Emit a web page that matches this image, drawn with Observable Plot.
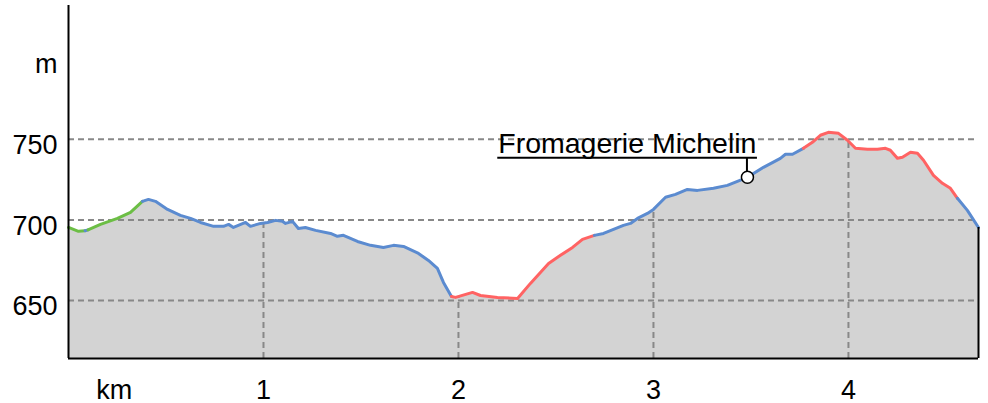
<!DOCTYPE html>
<html><head><meta charset="utf-8">
<script src="https://cdn.jsdelivr.net/npm/d3@7"></script>
<script src="https://cdn.jsdelivr.net/npm/@observablehq/plot@0.6"></script>
<style>body{margin:0;background:#fff}</style>
</head><body><div id="chart"></div>
<script>
const km = [0.000,0.051,0.085,0.100,0.164,0.251,0.318,0.379,0.410,0.446,0.508,0.574,0.626,0.677,0.744,0.795,0.821,0.846,0.908,0.933,0.985,1.021,1.062,1.097,1.113,1.149,1.179,1.215,1.267,1.344,1.379,1.410,1.482,1.549,1.615,1.667,1.718,1.795,1.846,1.892,1.923,1.964,1.985,2.072,2.113,2.200,2.303,2.369,2.462,2.523,2.585,2.636,2.697,2.744,2.795,2.846,2.882,2.918,2.969,3.000,3.062,3.113,3.174,3.226,3.308,3.379,3.482,3.564,3.651,3.677,3.713,3.769,3.815,3.856,3.897,3.949,3.995,4.036,4.097,4.149,4.190,4.215,4.251,4.277,4.318,4.354,4.385,4.436,4.482,4.523,4.559,4.610,4.667];
const elev = [695.3,692.9,693.3,693.8,697.2,700.9,704.7,711.5,712.7,711.5,706.5,702.8,700.9,698.4,696.0,696.0,697.2,695.3,698.4,696.0,697.8,698.4,699.7,699.1,697.8,699.1,694.7,695.3,693.5,691.6,689.8,690.4,686.6,684.2,682.9,684.2,683.5,679.2,674.8,669.9,661.2,652.5,651.9,655.0,653.1,651.9,651.2,660.6,673.0,678.0,682.9,687.9,690.4,691.6,694.1,696.6,697.8,700.9,704.0,706.5,714.0,715.8,718.9,718.3,719.6,721.4,726.4,732.6,738.2,740.7,740.7,744.4,748.1,752.5,754.3,753.7,749.4,744.4,743.8,743.8,744.4,743.2,738.2,738.8,741.9,741.3,737.0,727.6,722.7,719.6,713.4,705.9,695.3];
const segBreaks = [0, 0.085, 0.100, 0.379, 1.964, 2.697, 3.769, 4.559, 4.667];
const segColors = ["#6cbe45","#5b8bd0","#6cbe45","#5b8bd0","#ff6363","#5b8bd0","#ff6363","#5b8bd0"];
const yTickValues = [650, 700, 750, 800];
const yTickLabels = ["650", "700", "750", "m"];
const xTickValues = [0.235, 1, 2, 3, 4];
const xTickLabels = ["km", "1", "2", "3", "4"];
const gridY = [650, 700, 750];
const gridX = [1, 2, 3, 4];
const poiKm = [3.482];
const poiName = ["Fromagerie Michelin"];
const yDomain = [614, 833];

const pts = km.map((k, i) => ({km: k, elev: elev[i]}));
const interp = d3.scaleLinear().domain(km).range(elev);
const yMin = yDomain[0];
const xMax = km[km.length - 1];
const segments = segColors.map((c, i) => ({
  color: c,
  rows: pts.filter(p => p.km >= segBreaks[i] - 1e-9 && p.km <= segBreaks[i + 1] + 1e-9)
}));
const poi = poiKm.map((k, i) => ({km: k, elev: interp(k), name: poiName[i]}));
const gridXRows = gridX.map(k => ({km: k, elev: interp(k)}));

const FONT = "'Liberation Sans', Arial, sans-serif";
const plot = Plot.plot({
  width: 988, height: 403,
  marginLeft: 68, marginRight: 10, marginTop: 5, marginBottom: 45,
  style: {fontFamily: FONT, fontSize: "27px", background: "#fff", color: "#000"},
  x: {domain: [0, xMax]},
  y: {domain: yDomain},
  marks: [
    Plot.areaY(pts, {x: "km", y1: yMin, y2: "elev", fill: "#d3d3d3"}),
    Plot.ruleY(gridY, {stroke: "#888", strokeWidth: 2, strokeDasharray: "6,4"}),
    Plot.ruleX(gridXRows, {x: "km", y1: yMin, y2: "elev", stroke: "#888", strokeWidth: 2, strokeDasharray: "6,4"}),
    ...segments.map(s => Plot.line(s.rows, {x: "km", y: "elev", stroke: s.color, strokeWidth: 3})),
    Plot.ruleX([pts[pts.length - 1]], {x: "km", y1: yMin, y2: "elev", stroke: "#000", strokeWidth: 2}),
    Plot.ruleX([0], {stroke: "#000", strokeWidth: 2}),
    Plot.ruleY([yMin], {stroke: "#000", strokeWidth: 2}),
    Plot.axisY({ticks: yTickValues, tickFormat: d => yTickLabels[yTickValues.indexOf(d)], tickSize: 0, tickPadding: 11, fontSize: 27, dy: 6, label: null}),
    Plot.axisX({ticks: xTickValues, tickFormat: d => xTickLabels[xTickValues.indexOf(d)], tickSize: 0, tickPadding: 21, fontSize: 27, label: null}),
    Plot.dot(poi, {x: "km", y: "elev", r: 6, fill: "#fff", stroke: "#000", strokeWidth: 1.5}),
    Plot.text(poi, {x: "km", y: "elev", text: "name", textAnchor: "end", lineAnchor: "bottom", dx: 9, dy: -24.5, fontSize: 28.5, fill: "#000"})
  ]
});
document.getElementById("chart").append(plot);

// underline + leader for the point-of-interest label
const xs = plot.scale("x"), ys = plot.scale("y");
const svgRect = plot.getBoundingClientRect();
const allText = Array.from(plot.querySelectorAll("text"));
const dotGroup = Array.from(plot.querySelectorAll("circle")).map(c => c.parentNode)[0];
poi.forEach((p) => {
  const el = allText.find(t => t.textContent === p.name);
  if (!el) return;
  const px = xs.apply(p.km), py = ys.apply(p.elev);
  const r = el.getBoundingClientRect();
  const uy = py - 19;
  const g = document.createElementNS("http://www.w3.org/2000/svg", "g");
  plot.insertBefore(g, dotGroup || null);
  const sel = d3.select(g);
  sel.append("line").attr("x1", r.left - svgRect.left - 1).attr("x2", px + 10)
    .attr("y1", uy).attr("y2", uy).attr("stroke", "#000").attr("stroke-width", 2);
  sel.append("line").attr("x1", px).attr("x2", px).attr("y1", uy).attr("y2", py)
    .attr("stroke", "#000").attr("stroke-width", 2);
});
</script>
</body></html>
